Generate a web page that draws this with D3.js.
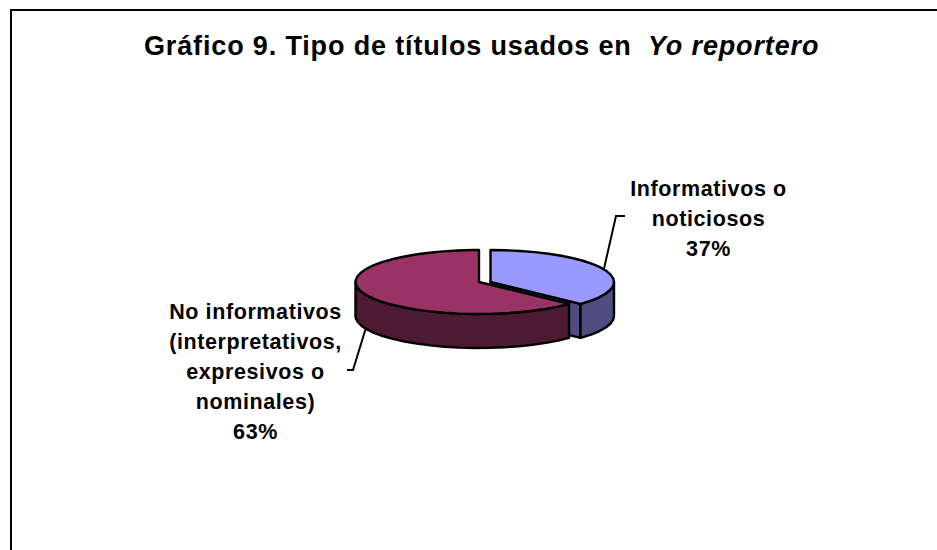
<!DOCTYPE html>
<html>
<head>
<meta charset="utf-8">
<script src="https://cdn.jsdelivr.net/npm/d3@7"></script>
<style>
  html, body { margin: 0; padding: 0; background: #fff; }
  svg { display: block; }
  text { font-family: "Liberation Sans", Arial, sans-serif; font-weight: bold; fill: #000; }
</style>
</head>
<body>
<div id="chart"></div>
<script>
const categories = ["Informativos o noticiosos", "No informativos"];
const values = [37, 63];
const topColors = ["#9999ff", "#993366"];
const sideColors = ["#4d4d80", "#4d1a33"];
const labelLines = [
    ["Informativos o", "noticiosos", "37%"],
    ["No informativos", "(interpretativos,", "expresivos o", "nominales)", "63%"]
];

const width = 937;
const height = 550;

// pie is drawn squashed, with the first slice pulled out to the right
const cx = [490.5, 479];
const cy = 282;
const rx = 123.5;
const ry = 32;
const depth = 34;
const step = 7 * Math.PI / 180;

const labelX = [708.5, 255.5];
const labelY = [195.5, 318.5];
const lineGap = [30, 30];
const elbows = [[[616, 216], [625, 216]], [[353, 370], [347, 370]]];

const svg = d3.select("#chart")
    .append("svg")
    .attr("width", width)
    .attr("height", height);

// frame runs off the page at right and bottom
svg.append("path")
    .attr("d", `M11,${height}V10H${width}`)
    .attr("fill", "none")
    .attr("stroke", "#000")
    .attr("stroke-width", 2);

const title = svg.append("text")
    .attr("x", 144)
    .attr("y", 55)
    .attr("font-size", "27px")
    .attr("letter-spacing", "0.85px");
title.append("tspan").text("Gráfico 9. Tipo de títulos usados en");
title.append("tspan").attr("x", 648).attr("font-style", "italic").text("Yo reportero");

const slices = d3.pie().sort(null)(values);

function px(i, a) { return cx[i] + rx * Math.sin(a); }
function py(a) { return cy - ry * Math.cos(a); }

// angles along the rim, in coarse steps
function rim(a0, a1) {
    const pts = d3.range(a0, a1, step);
    pts.push(a1);
    return pts;
}

const line = d3.line();

function topPath(i, s) {
    const pts = rim(s.startAngle, s.endAngle).map(a => [px(i, a), py(a)]);
    return line([[cx[i], cy], ...pts]) + "Z";
}

function wallPath(i, a0, a1) {
    const pts = rim(a0, a1);
    const upper = pts.map(a => [px(i, a), py(a)]);
    const lower = pts.slice().reverse().map(a => [px(i, a), py(a) + depth]);
    return line([...upper, ...lower]) + "Z";
}

function addShape(d, fill) {
    svg.append("path")
        .attr("d", d)
        .attr("fill", fill)
        .attr("stroke", "#000")
        .attr("stroke-width", 2.4)
        .attr("stroke-linejoin", "round");
}

// leader lines go under the pie
slices.forEach((s, i) => {
    const mid = (s.startAngle + s.endAngle) / 2;
    const front = Math.cos(mid) < 0 && Math.sin(mid) < 0;
    const start = [px(i, mid), py(mid) + (front ? depth : 0)];
    svg.append("path")
        .attr("d", line([start, ...elbows[i]]))
        .attr("fill", "none")
        .attr("stroke", "#000")
        .attr("stroke-width", 2);
});

// back to front: blue slice with its cut face, then the magenta slice over it
const blue = slices[0];
const bEnd = blue.endAngle;
addShape(line([
    [cx[0], cy],
    [px(0, bEnd), py(bEnd)],
    [px(0, bEnd), py(bEnd) + depth],
    [cx[0], cy + depth]
]) + "Z", sideColors[0]);
addShape(wallPath(0, Math.PI / 2, bEnd), sideColors[0]);
addShape(topPath(0, blue), topColors[0]);

const wine = slices[1];
addShape(wallPath(1, wine.startAngle, 3 * Math.PI / 2), sideColors[1]);
addShape(topPath(1, wine), topColors[1]);

// labels
labelLines.forEach((lines, i) => {
    svg.selectAll(`.label-${i}`)
        .data(lines)
        .join("text")
        .attr("class", `label-${i}`)
        .attr("x", labelX[i])
        .attr("y", (d, j) => labelY[i] + j * lineGap[i])
        .attr("text-anchor", "middle")
        .attr("font-size", "21.5px")
        .attr("letter-spacing", "0.6px")
        .text(d => d);
});
</script>
</body>
</html>
